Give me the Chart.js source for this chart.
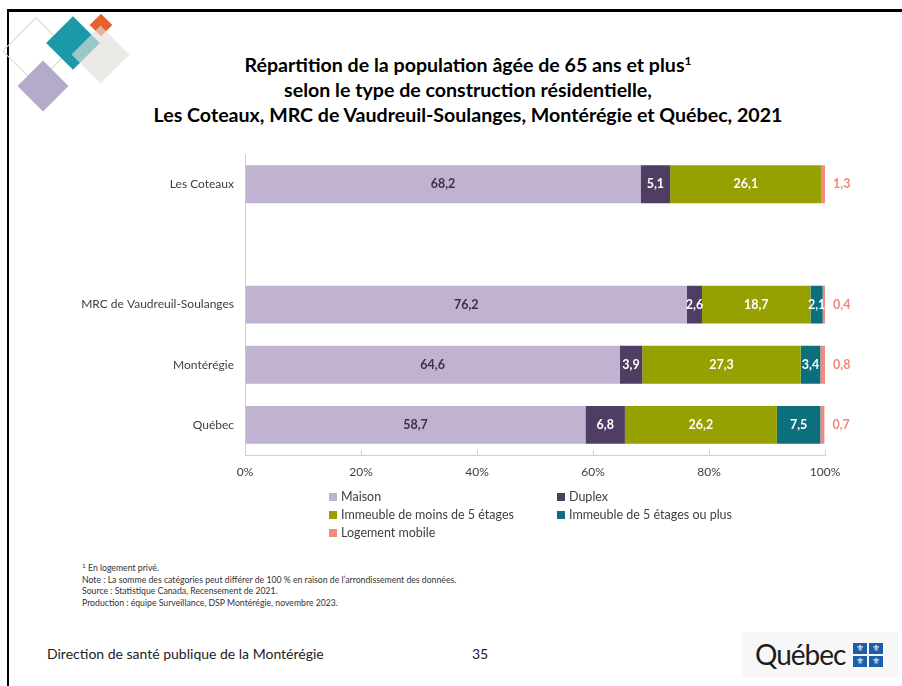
<!DOCTYPE html>
<html lang="fr">
<head>
<meta charset="utf-8">
<script src="https://cdn.jsdelivr.net/npm/chart.js@4.4.1/dist/chart.umd.min.js"></script>
<style>
  html, body { margin:0; padding:0; background:#fff; }
  body { width:902px; height:686px; position:relative; overflow:hidden; font-family: Lato, "Open Sans", sans-serif; }
  .frame { position:absolute; left:7px; top:9px; width:900px; height:690px; border-top:3px solid #000; border-left:2px solid #000; }
  .dia { position:absolute; transform:rotate(45deg); }
  #title { position:absolute; left:0; width:936px; top:52px; text-align:center; font-weight:700; font-size:19.6px; line-height:25px; color:#000; }
  #title sup { font-size:12px; vertical-align:7px; line-height:0; }
  #chartCanvas { position:absolute; left:0; top:136px; }
  #legend { position:absolute; left:329px; top:488px; width:500px; font-size:12.5px; color:#404040; }
  .li { position:absolute; white-space:nowrap; line-height:18px; }
  .li span.box { display:inline-block; width:8px; height:8px; margin-right:4px; vertical-align:0px; }
  #notes { position:absolute; left:82px; top:562px; font-size:8.7px; line-height:11.6px; color:#333; }
  #footer { position:absolute; left:47px; top:645px; font-size:14px; color:#222; }
  #page { position:absolute; left:472px; top:645px; font-size:14px; color:#222; }
  #qclogo { position:absolute; left:742px; top:632px; width:156px; height:46px; background:#f7f7f7; }
  #qctext { position:absolute; left:13px; top:5px; font-family: Lato, sans-serif; font-size:28px; letter-spacing:-1px; color:#1d1d1b; }
  .fl { position:absolute; width:14px; height:11px; background:#1b5faa; color:#fff; font-size:9px; line-height:11px; text-align:center; font-family:"DejaVu Sans", sans-serif; }
</style>
</head>
<body>
<div class="frame"></div>

<!-- decorative logo -->
<div class="dia" style="left:12px;top:27px;width:46px;height:46px;border:1px solid #d7dccb;"></div>
<div class="dia" style="left:54px;top:24px;width:38px;height:38px;background:#1a9aa9;"></div>
<div class="dia" style="left:93px;top:17px;width:16px;height:16px;background:#e8612a;"></div>
<div class="dia" style="left:80px;top:34px;width:41px;height:41px;background:rgba(226,222,217,0.65);"></div>
<div class="dia" style="left:25px;top:68px;width:36px;height:36px;background:#b4aaca;"></div>

<div id="title">Répartition de la population âgée de 65 ans et plus<sup>1</sup><br>selon le type de construction résidentielle,<br>Les Coteaux, MRC de Vaudreuil-Soulanges, Montérégie et Québec, 2021</div>

<canvas id="chartCanvas" width="870" height="354"></canvas>

<div id="legend"></div>

<div id="notes">
<span style="font-size:6.5px;vertical-align:3px;line-height:0">1</span> En logement privé.<br>
Note : La somme des catégories peut différer de 100 % en raison de l’arrondissement des données.<br>
Source : Statistique Canada, Recensement de 2021.<br>
Production : équipe Surveillance, DSP Montérégie, novembre 2023.
</div>

<div id="footer">Direction de santé publique de la Montérégie</div>
<div id="page">35</div>

<div id="qclogo">
  <div id="qctext">Québec</div>
  <div class="fl" style="left:111px;top:11px;">⚜</div>
  <div class="fl" style="left:127px;top:11px;">⚜</div>
  <div class="fl" style="left:111px;top:24px;">⚜</div>
  <div class="fl" style="left:127px;top:24px;">⚜</div>
</div>

<script>
// ---- Data ----
const categories = ['Les Coteaux', '', 'MRC de Vaudreuil-Soulanges', 'Montérégie', 'Québec'];
const seriesNames = ['Maison', 'Duplex', 'Immeuble de moins de 5 étages', 'Immeuble de 5 étages ou plus', 'Logement mobile'];
const maison      = [68.2, null, 76.2, 64.6, 58.7];
const duplex      = [5.1,  null, 2.6,  3.9,  6.8];
const immMoins5   = [26.1, null, 18.7, 27.3, 26.2];
const imm5Plus    = [null, null, 2.1,  3.4,  7.5];
const logMobile   = [1.3,  null, 0.4,  0.8,  0.7];
const xTicks      = [0, 20, 40, 60, 80, 100];

const seriesValues = [maison, duplex, immMoins5, imm5Plus, logMobile];
const seriesColors = ['#c0b3d1', '#4f3e63', '#96a000', '#0b6f7c', '#f28a80'];
const labelColors  = ['#3b2f4d', '#ffffff', '#ffffff', '#ffffff', '#f4877d'];

// ---- Legend (HTML) ----
const legendPos = [[0,0],[228,0],[0,18],[228,18],[0,36]];
const legendEl = document.getElementById('legend');
seriesNames.forEach((n, i) => {
  const d = document.createElement('div');
  d.className = 'li';
  d.style.left = legendPos[i][0] + 'px';
  d.style.top = legendPos[i][1] + 'px';
  d.innerHTML = '<span class="box" style="background:' + seriesColors[i] + '"></span>' + n;
  legendEl.appendChild(d);
});

const fmt = v => v.toFixed(1).replace('.', ',');

const labelPlugin = {
  id: 'barLabels',
  afterDatasetsDraw(chart) {
    const ctx = chart.ctx;
    const area = chart.chartArea;
    ctx.save();
    ctx.textBaseline = 'middle';
    chart.data.datasets.forEach((ds, di) => {
      const meta = chart.getDatasetMeta(di);
      meta.data.forEach((el, i) => {
        const v = ds.data[i];
        if (v === null || v === undefined) return;
        const p = el.getProps(['x', 'y', 'base'], true);
        ctx.fillStyle = labelColors[di];
        ctx.font = 'bold 12.5px Lato, sans-serif';
        if (di === 4) {
          ctx.textAlign = 'left';
          ctx.fillText(fmt(v), Math.min(p.x, area.right) + 8, p.y);
        } else {
          ctx.textAlign = 'center';
          ctx.fillText(fmt(v), (p.x + p.base) / 2, p.y);
        }
      });
    });
    ctx.restore();
  }
};

new Chart(document.getElementById('chartCanvas'), {
  type: 'bar',
  data: {
    labels: categories,
    datasets: seriesNames.map((n, i) => ({
      label: n,
      data: seriesValues[i],
      backgroundColor: seriesColors[i],
      borderWidth: 0,
      barPercentage: 0.63,
      categoryPercentage: 1,
      clip: 0
    }))
  },
  options: {
    indexAxis: 'y',
    responsive: false,
    animation: false,
    events: [],
    layout: { padding: { top: 8, right: 45, bottom: 5, left: 0 } },
    plugins: { legend: { display: false }, tooltip: { enabled: false }, title: { display: false } },
    scales: {
      x: {
        stacked: true,
        min: 0, max: 100,
        afterBuildTicks: s => { s.ticks = xTicks.map(v => ({ value: v })); },
        afterFit: s => { s.height = 30; },
        grid: { drawOnChartArea: false, drawTicks: true, tickLength: -5, color: '#d0d0d0' },
        border: { display: true, color: '#d0d0d0', width: 1 },
        ticks: { padding: 15, color: '#404040', font: { family: 'Lato', size: 12 }, callback: v => v + '%' }
      },
      y: {
        stacked: true,
        afterFit: s => { s.width = 245; },
        grid: { drawOnChartArea: false, drawTicks: false },
        border: { display: true, color: '#d0d0d0', width: 1 },
        ticks: { padding: 11, color: '#404040', font: { family: 'Lato', size: 12 } }
      }
    }
  },
  plugins: [labelPlugin]
});
</script>
</body>
</html>
